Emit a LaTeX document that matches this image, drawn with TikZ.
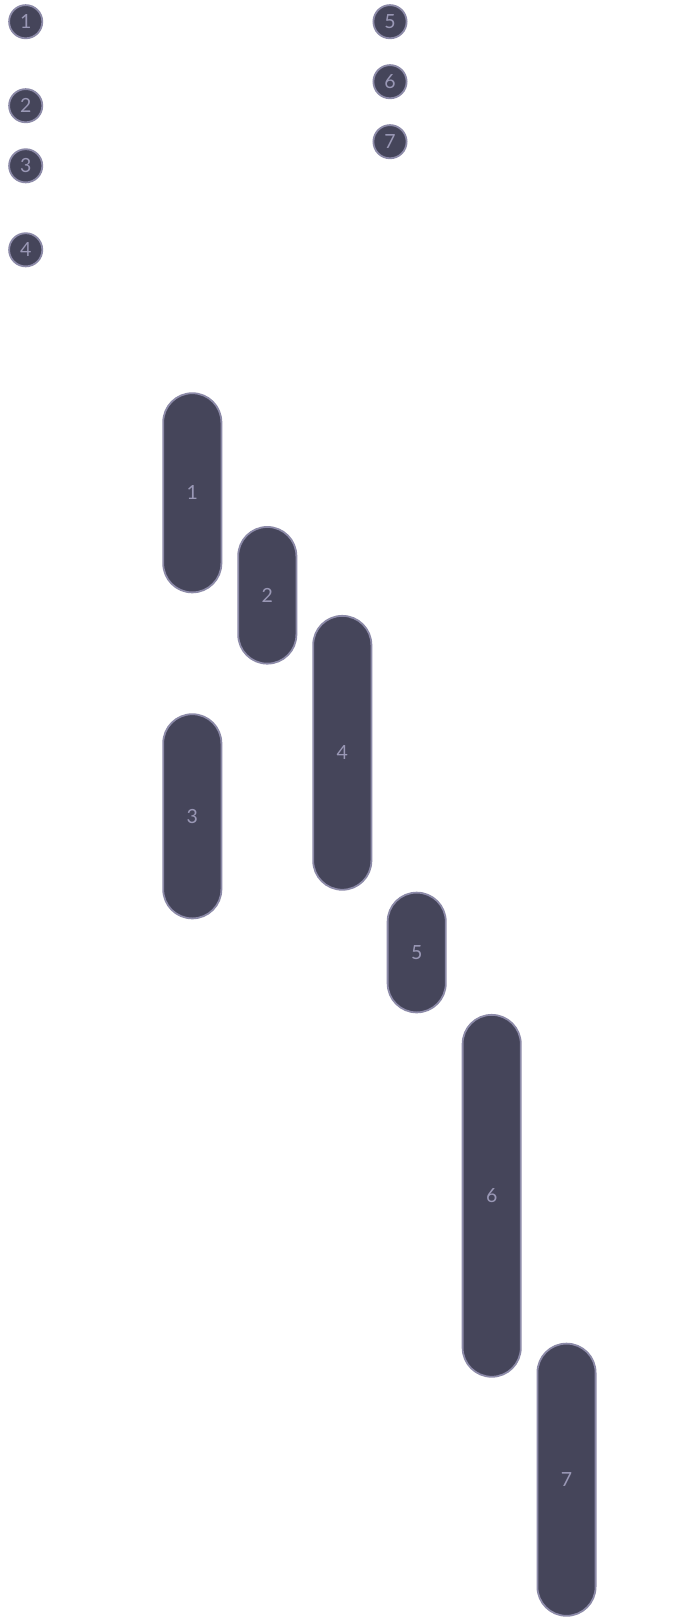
\documentclass[tikz,border=0pt]{standalone}
\usepackage{fontspec}
\setmainfont{Lato}
\definecolor{fillc}{HTML}{45455A}
\definecolor{edgec}{HTML}{8C8AA8}
\definecolor{textc}{HTML}{9A98B6}
\begin{document}
\begin{tikzpicture}[x=1pt,y=-1pt,
  bar/.style={draw=edgec, line width=1.8pt, fill=fillc, rounded corners=29.1pt,
    minimum width=58.2pt, inner sep=0pt, text=textc, font=\fontsize{19.5}{22}\selectfont},
  badge/.style={circle, draw=edgec, line width=1.8pt, fill=fillc, minimum size=33.2pt,
    inner sep=0pt, text=textc, font=\fontsize{19.5}{22}\selectfont}]
\fill[white] (0,0) rectangle (690,1617);
\useasboundingbox (0,0) rectangle (690,1617);
% legend badges
\node[badge] (b1) at (25.7,21.7) {1};
\node[badge] (b2) at (25.7,105.7) {2};
\node[badge] (b3) at (25.7,165.8) {3};
\node[badge] (b4) at (25.7,249.8) {4};
\node[badge] (b5) at (390,21.7) {5};
\node[badge] (b6) at (390,81.7) {6};
\node[badge] (b7) at (390,141.7) {7};
% bars
\node[bar, minimum height=199.2pt] (p1) at (192.3,492.8) {1};
\node[bar, minimum height=136.7pt] (p2) at (267.3,595.3) {2};
\node[bar, minimum height=204.2pt] (p3) at (192.3,816.3) {3};
\node[bar, minimum height=273.9pt] (p4) at (342.3,752.8) {4};
\node[bar, minimum height=119.8pt] (p5) at (416.7,952.5) {5};
\node[bar, minimum height=361.9pt] (p6) at (491.7,1195.8) {6};
\node[bar, minimum height=272.2pt] (p7) at (566.5,1479.7) {7};
\end{tikzpicture}
\end{document}
